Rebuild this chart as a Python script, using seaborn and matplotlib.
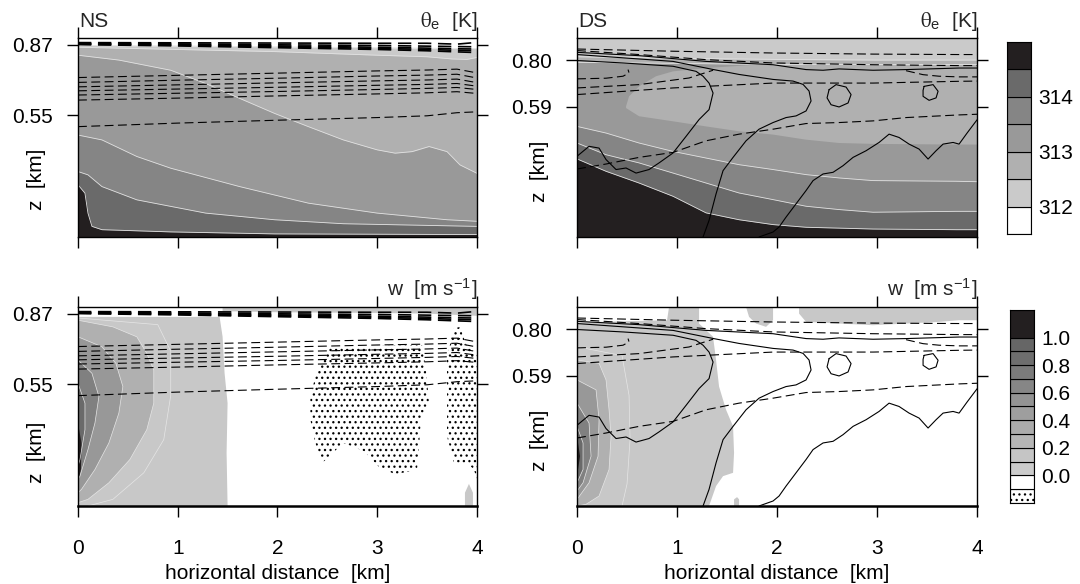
import numpy as np
import matplotlib
matplotlib.use("Agg")
import matplotlib.pyplot as plt
import seaborn as sns

# ---------------- axis settings ----------------
ZTOP = 0.9
XMAX = 4.0
XTICKS = [0, 1, 2, 3, 4]
NS_YTICKS = [0.55, 0.87]
DS_YTICKS = [0.59, 0.80]

# ---------------- colour scales ----------------
TH_COLORS = ['#ffffff', '#cacaca', '#b0b0b0', '#999999', '#858585', '#6a6a6a', '#231f20']
TH_CB_TICKPOS = [1, 3, 5]
TH_CB_LABELS = ['312', '313', '314']
W_CB_COLORS = ['#ffffff', '#ffffff', '#cbcbcb', '#c5c5c5', '#b5b5b5', '#ababab', '#9e9e9e',
               '#939393', '#868686', '#7b7b7b', '#6e6e6e', '#666666', '#231f20']
W_CB_HEIGHTS = [1, 1, 1, 1, 1, 1, 1, 1, 1, 1, 1, 1, 2]
W_CB_TICKPOS = [2, 4, 6, 8, 10, 12]
W_CB_LABELS = ['0.0', '0.2', '0.4', '0.6', '0.8', '1.0']
W_FILL = ['#c8c8c8', '#b0b0b0', '#989898', '#808080', '#6a6a6a', '#231f20']

# ---------------- NS theta_e band boundaries ----------------
ns_b312_x = [0, 1, 2, 3, 4]
ns_b312_z = [0.866, 0.864, 0.860, 0.856, 0.852]
ns_b3125_x = [0, 0.5, 1, 1.5, 2, 2.5, 3, 3.5, 3.75, 3.9, 4]
ns_b3125_z = [0.858, 0.853, 0.848, 0.843, 0.838, 0.830, 0.822, 0.815, 0.805, 0.803, 0.812]
ns_b313_x = [0, 0.41, 0.93, 1.28, 1.62, 1.97, 2.31, 2.66, 3.0, 3.18, 3.35, 3.52, 3.70, 3.83, 4.0]
ns_b313_z = [0.822, 0.80, 0.754, 0.694, 0.627, 0.559, 0.499, 0.439, 0.394, 0.379, 0.386, 0.409, 0.386, 0.326, 0.288]
ns_b3135_x = [0, 0.24, 0.59, 0.93, 1.62, 2.31, 3.0, 3.70, 4.0]
ns_b3135_z = [0.461, 0.439, 0.364, 0.311, 0.228, 0.153, 0.108, 0.078, 0.071]
ns_b314_x = [0, 0.10, 0.24, 0.59, 1.28, 1.97, 2.66, 4.0]
ns_b314_z = [0.296, 0.281, 0.228, 0.168, 0.108, 0.078, 0.060, 0.048]
ns_b3145_x = [0, 0.07, 0.10, 0.14, 0.24, 0.93, 1.97, 4.0]
ns_b3145_z = [0.236, 0.198, 0.108, 0.048, 0.033, 0.023, 0.014, 0.011]

# ---------------- DS theta_e band boundaries ----------------
ds_b312_x = [0, 1, 2, 3, 4]
ds_b312_z = [0.815, 0.808, 0.803, 0.800, 0.800]
ds_b3125_x = [0, 1, 2, 3, 4]
ds_b3125_z = [0.790, 0.785, 0.780, 0.780, 0.780]
ds_b3135_x = [0, 0.29, 0.62, 0.96, 1.29, 1.62, 1.96, 2.29, 2.62, 2.96, 3.79, 4.0]
ds_b3135_z = [0.50, 0.47, 0.425, 0.387, 0.357, 0.327, 0.305, 0.282, 0.267, 0.255, 0.252, 0.250]
ds_b314_x = [0, 0.29, 0.62, 0.96, 1.29, 1.62, 1.96, 2.29, 2.62, 2.96, 3.79, 4.0]
ds_b314_z = [0.425, 0.372, 0.335, 0.289, 0.244, 0.199, 0.169, 0.139, 0.124, 0.112, 0.116, 0.116]
ds_b3145_x = [0, 0.29, 0.62, 0.96, 1.29, 1.62, 1.96, 2.29, 2.96, 3.79, 4.0]
ds_b3145_z = [0.353, 0.297, 0.244, 0.184, 0.109, 0.078, 0.056, 0.044, 0.036, 0.033, 0.033]
ds_tongue_x = [0.49, 0.62, 0.96, 1.29, 1.62, 1.96, 2.29, 2.62, 2.96, 3.79, 4.0,
               4.0, 2.96, 1.96, 1.29, 0.96, 0.79, 0.62, 0.52, 0.49]
ds_tongue_z = [0.583, 0.546, 0.523, 0.500, 0.478, 0.463, 0.440, 0.425, 0.421, 0.418, 0.418,
               0.780, 0.779, 0.784, 0.764, 0.749, 0.727, 0.681, 0.636, 0.591]

# ---------------- NS dashed isolines ----------------
ns_line_x = [0, 1, 2, 3, 3.5, 3.8, 4]
ns_top_lines = [
    [0.879, 0.878, 0.877, 0.876, 0.876, 0.872, 0.880],
    [0.876, 0.873, 0.869, 0.866, 0.863, 0.861, 0.860],
    [0.874, 0.870, 0.864, 0.858, 0.854, 0.851, 0.850],
    [0.872, 0.867, 0.860, 0.853, 0.848, 0.844, 0.842],
    [0.870, 0.864, 0.856, 0.848, 0.842, 0.837, 0.834],
]
ns_mid_lines = [
    [0.721, 0.731, 0.741, 0.751, 0.755, 0.759, 0.742],
    [0.699, 0.709, 0.718, 0.728, 0.732, 0.736, 0.719],
    [0.679, 0.688, 0.697, 0.706, 0.710, 0.714, 0.698],
    [0.661, 0.669, 0.677, 0.686, 0.690, 0.694, 0.682],
    [0.642, 0.650, 0.658, 0.667, 0.672, 0.676, 0.667],
    [0.619, 0.628, 0.638, 0.647, 0.652, 0.657, 0.649],
    [0.499, 0.515, 0.528, 0.540, 0.548, 0.562, 0.566],
]

# ---------------- DS dashed and solid isolines ----------------
ds_dashed = [
    ([0, 0.96, 1.96, 2.96, 3.82, 4.0], [0.850, 0.840, 0.832, 0.827, 0.825, 0.825]),
    ([0, 0.62, 1.29, 1.96, 2.96, 3.82, 4.0], [0.843, 0.825, 0.802, 0.787, 0.779, 0.775, 0.775]),
    ([0, 0.29, 0.46, 0.52, 0.51], [0.715, 0.718, 0.727, 0.742, 0.757]),
    ([0, 0.62, 1.12, 1.36], [0.674, 0.689, 0.719, 0.754]),
    ([0, 0.96, 1.96, 2.96, 3.82, 4.0], [0.644, 0.674, 0.696, 0.696, 0.704, 0.705]),
    ([0, 0.29, 0.62, 0.96, 1.29, 1.62, 1.96, 2.29, 2.62, 2.96, 3.29, 3.82, 4.0],
     [0.3075, 0.33, 0.36, 0.3825, 0.435, 0.465, 0.4875, 0.513, 0.5175, 0.525, 0.54, 0.552, 0.555]),
    ([3.29, 3.46, 3.62, 3.82, 4.0], [0.752, 0.734, 0.727, 0.724, 0.724]),
]
ds_solid = [
    ([0, 0.46, 0.96, 1.19, 1.26, 1.32, 1.36, 1.32, 1.22, 1.09, 0.96, 0.82, 0.72, 0.59, 0.49,
      0.39, 0.29, 0.22, 0.12, 0],
     [0.798, 0.787, 0.772, 0.749, 0.727, 0.696, 0.651, 0.576, 0.531, 0.455, 0.380, 0.335,
      0.305, 0.289, 0.312, 0.305, 0.350, 0.402, 0.410, 0.365]),
    ([0, 0.96, 1.36, 1.62, 1.96, 2.16, 2.26, 2.32, 2.34, 2.29, 2.19, 2.09, 1.96, 1.82, 1.69,
      1.56, 1.46, 1.39, 1.32, 1.26],
     [0.825, 0.794, 0.7575, 0.735, 0.7125, 0.705, 0.69, 0.66, 0.615, 0.57, 0.5475, 0.54,
      0.5175, 0.4875, 0.435, 0.36, 0.30, 0.195, 0.075, 0.0]),
    ([1.82, 1.96, 2.02, 2.09, 2.19, 2.29, 2.36, 2.46, 2.56, 2.66, 2.76, 2.89, 3.02, 3.12,
      3.22, 3.32, 3.42, 3.51, 3.59, 3.66, 3.76, 3.82, 3.9, 4.0],
     [0.0, 0.0225, 0.045, 0.09, 0.15, 0.21, 0.255, 0.285, 0.2925, 0.3225, 0.36, 0.39,
      0.4275, 0.465, 0.45, 0.42, 0.3975, 0.3525, 0.39, 0.42, 0.4275, 0.42, 0.47, 0.53]),
    ([0, 0.62, 1.29, 1.96, 2.29, 2.46, 2.62, 2.96, 3.29, 3.82, 4.0],
     [0.835, 0.820, 0.794, 0.779, 0.757, 0.754, 0.760, 0.754, 0.757, 0.764, 0.764]),
    ([2.52, 2.59, 2.69, 2.74, 2.71, 2.62, 2.54, 2.50, 2.52],
     [0.666, 0.689, 0.678, 0.644, 0.606, 0.588, 0.598, 0.629, 0.666]),
    ([3.47, 3.56, 3.61, 3.59, 3.52, 3.46, 3.46, 3.47],
     [0.681, 0.689, 0.659, 0.629, 0.618, 0.636, 0.663, 0.681]),
]

# ---------------- NS vertical velocity regions ----------------
ns_w_regions = [
    ([0, 1.42, 1.45, 1.47, 1.50, 1.49, 1.50, 0], [0.855, 0.855, 0.765, 0.60, 0.465, 0.24, 0.0, 0.0]),
    ([0, 0.35, 0.59, 0.69, 0.76, 0.76, 0.69, 0.52, 0.31, 0.10, 0],
     [0.84, 0.81, 0.765, 0.69, 0.615, 0.465, 0.345, 0.21, 0.105, 0.03, 0.015]),
    ([0, 0.24, 0.38, 0.45, 0.41, 0.31, 0.17, 0.035, 0],
     [0.765, 0.72, 0.645, 0.54, 0.42, 0.285, 0.165, 0.075, 0.06]),
    ([0, 0.14, 0.21, 0.17, 0.10, 0.02, 0], [0.66, 0.60, 0.495, 0.375, 0.255, 0.135, 0.12]),
    ([0, 0.07, 0.07, 0.02, 0], [0.555, 0.465, 0.345, 0.21, 0.18]),
    ([0, 0.035, 0.03, 0], [0.375, 0.285, 0.165, 0.105]),
]
ns_w_extra = [
    ([1.45, 4.0, 4.0, 3.5, 3.0, 2.0, 1.6, 1.45], [0.9, 0.9, 0.86, 0.87, 0.873, 0.876, 0.88, 0.88]),
    ([3.88, 3.88, 3.92, 3.96, 3.96], [0.0, 0.06, 0.10, 0.06, 0.0]),
]
ns_w_01 = ([0, 0.8, 0.93, 0.93, 0.86, 0.66, 0.35, 0.1], [0.85, 0.82, 0.70, 0.50, 0.30, 0.15, 0.03, 0.0])
ns_neg = [
    ([2.52, 3.45, 3.49, 3.52, 3.44, 3.40, 3.18, 3.01, 2.87, 2.66, 2.52, 2.45, 2.38, 2.33, 2.33, 2.38],
     [0.72, 0.7275, 0.615, 0.465, 0.39, 0.165, 0.1425, 0.18, 0.2475, 0.285, 0.225, 0.195, 0.285,
      0.39, 0.495, 0.585]),
    ([3.70, 3.77, 3.83, 3.90, 4.0, 4.0, 3.97, 3.90, 3.77, 3.70, 3.70],
     [0.675, 0.8025, 0.81, 0.72, 0.69, 0.12, 0.165, 0.195, 0.195, 0.315, 0.495]),
]

# ---------------- DS vertical velocity regions ----------------
ds_w_regions = [
    ([0, 0.9, 0.92, 1.22, 1.22, 1.36, 1.39, 1.42, 1.49, 1.56, 1.57, 1.56, 1.46, 1.39, 1.32, 0],
     [0.83, 0.84, 0.9, 0.9, 0.825, 0.765, 0.66, 0.54, 0.435, 0.36, 0.24, 0.15, 0.135, 0.09, 0.0, 0.0]),
    ([0, 0.22, 0.29, 0.32, 0.34, 0.32, 0.22, 0.09, 0], [0.66, 0.645, 0.57, 0.435, 0.315, 0.165, 0.045, 0.0075, 0]),
    ([0, 0.19, 0.22, 0.21, 0.12, 0], [0.57, 0.525, 0.39, 0.225, 0.105, 0.03]),
    ([0, 0.12, 0.14, 0.06, 0], [0.465, 0.375, 0.225, 0.105, 0.0675]),
    ([0, 0.06, 0.06, 0], [0.36, 0.285, 0.165, 0.105]),
    ([0, 0.03, 0], [0.315, 0.225, 0.135]),
]
ds_w_extra = [
    ([1.69, 1.96, 1.96, 1.89, 1.79, 1.72], [0.9, 0.9, 0.84, 0.81, 0.825, 0.855]),
    ([2.22, 4.0, 4.0, 3.82, 3.62, 3.29, 2.96, 2.62, 2.29, 2.22],
     [0.9, 0.9, 0.84, 0.84, 0.8325, 0.825, 0.8175, 0.825, 0.8325, 0.87]),
    ([1.57, 1.57, 1.60, 1.62, 1.62], [0.0, 0.03, 0.04, 0.03, 0.0]),
]
ds_w_01 = ([0, 0.45, 0.52, 0.53, 0.50, 0.45], [0.72, 0.68, 0.50, 0.30, 0.10, 0.0])

# ---------------- style ----------------
sns.set_theme(style="ticks")
plt.rcParams['font.family'] = ['Liberation Sans', 'DejaVu Sans']
plt.rcParams['mathtext.fontset'] = 'stix'
plt.rcParams['hatch.linewidth'] = 0.9
FS = 15
DASH = (0, (8, 4))

fig = plt.figure(figsize=(10.8, 5.84), dpi=100)
ax_nt = fig.add_axes([0.0722, 0.5942, 0.3694, 0.3408])
ax_nb = fig.add_axes([0.0722, 0.1336, 0.3694, 0.3408])
ax_dt = fig.add_axes([0.5343, 0.5942, 0.3704, 0.3408])
ax_db = fig.add_axes([0.5343, 0.1336, 0.3704, 0.3408])


def draw_line(ax, x, z, ls='-', lw=0.8, color='black'):
    sns.lineplot(x=np.asarray(x, float), y=np.asarray(z, float), ax=ax, sort=False,
                 estimator=None, color=color, linewidth=lw, linestyle=ls)


def theta_bands(ax, bounds, tongue=None):
    ax.fill_between([0, XMAX], [0, 0], [ZTOP, ZTOP], color=TH_COLORS[6], lw=0)
    for i, (bx, bz) in enumerate(bounds):
        col = TH_COLORS[5 - i]
        if tongue is not None and i == 3:
            ax.fill(tongue[0], tongue[1], color=TH_COLORS[2], lw=0)
        ax.fill_between(bx, bz, ZTOP, color=col, lw=0)
        draw_line(ax, bx, bz, lw=0.6, color='#e2e2e2')


theta_bands(ax_nt, [(ns_b3145_x, ns_b3145_z), (ns_b314_x, ns_b314_z), (ns_b3135_x, ns_b3135_z),
                    (ns_b313_x, ns_b313_z), (ns_b3125_x, ns_b3125_z), (ns_b312_x, ns_b312_z)])
theta_bands(ax_dt, [(ds_b3145_x, ds_b3145_z), (ds_b314_x, ds_b314_z), (ds_b3135_x, ds_b3135_z),
                    (ds_b3125_x, ds_b3125_z), (ds_b312_x, ds_b312_z)],
            tongue=(ds_tongue_x, ds_tongue_z))


def w_bands(ax, regions, extra, line01):
    for (ex, ez) in extra:
        ax.fill(ex, ez, color=W_FILL[0], lw=0)
    for i, (rx, rz) in enumerate(regions):
        ax.fill(rx, rz, color=W_FILL[i], lw=0)
        if 0 < i < 5:
            draw_line(ax, rx, rz, lw=0.5, color='#e6e6e6')
    draw_line(ax, line01[0], line01[1], lw=0.5, color='#e6e6e6')


w_bands(ax_nb, ns_w_regions, ns_w_extra, ns_w_01)
w_bands(ax_db, ds_w_regions, ds_w_extra, ds_w_01)
for (px, pz) in ns_neg:
    ax_nb.fill(px, pz, facecolor='none', edgecolor='black', hatch='...', lw=0)

# isolines
for ax in (ax_nt, ax_nb):
    for zz in ns_top_lines:
        draw_line(ax, ns_line_x, zz, ls=DASH, lw=1.2)
    for zz in ns_mid_lines:
        draw_line(ax, ns_line_x, zz, ls=DASH, lw=0.8)
for ax in (ax_dt, ax_db):
    for (lx, lz) in ds_dashed:
        draw_line(ax, lx, lz, ls=DASH, lw=0.8)
    for (lx, lz) in ds_solid:
        draw_line(ax, lx, lz, ls='-', lw=0.8)

# axes cosmetics
for ax, yt, bottom in ((ax_nt, NS_YTICKS, False), (ax_nb, NS_YTICKS, True),
                       (ax_dt, DS_YTICKS, False), (ax_db, DS_YTICKS, True)):
    ax.set_xlim(0, XMAX)
    ax.set_ylim(0, ZTOP)
    ax.set_xticks(XTICKS)
    ax.set_yticks(yt)
    ax.set_yticklabels([f'{v:.2f}' for v in yt])
    ax.tick_params(direction='out', length=8, width=1, top=True, right=True,
                   labelsize=FS, colors='black', pad=10)
    ax.tick_params(axis='x', pad=16, labelbottom=bottom)
    for s in ax.spines.values():
        s.set_linewidth(1.0)
        s.set_color('black')
    ax.grid(False)
    ax.set_ylabel('z  [km]', fontsize=FS, color='black')
    if bottom:
        ax.spines['bottom'].set_linewidth(1.8)
        ax.set_xlabel('horizontal distance  [km]', fontsize=FS, color='black', labelpad=4)
        ax.set_xticklabels([str(v) for v in XTICKS])
    else:
        ax.set_xlabel('')

ax_nt.yaxis.set_label_coords(-0.08, 0.29)
ax_nb.yaxis.set_label_coords(-0.08, 0.27)
ax_dt.yaxis.set_label_coords(-0.07, 0.33)
ax_db.yaxis.set_label_coords(-0.07, 0.33)

for ax, txt in ((ax_nt, 'NS'), (ax_dt, 'DS')):
    ax.annotate(txt, xy=(0, 1), xycoords='axes fraction', xytext=(1, 8),
                textcoords='offset points', ha='left', va='baseline', fontsize=FS)
for ax in (ax_nt, ax_dt):
    ax.annotate(r'$\mathrm{\theta}_{\mathregular{e}}$  [K]', xy=(1, 1), xycoords='axes fraction',
                xytext=(0, 8), textcoords='offset points', ha='right', va='baseline', fontsize=FS)
for ax in (ax_nb, ax_db):
    ax.annotate(r'w  [m s$^{\mathregular{-1}}$]', xy=(1, 1), xycoords='axes fraction', xytext=(0, 8),
                textcoords='offset points', ha='right', va='baseline', fontsize=FS)

# colour bars
cb1 = fig.add_axes([0.9324, 0.5993, 0.0222, 0.3293])
bottom_acc = 0
for c in TH_COLORS:
    cb1.bar(0, 1, bottom=bottom_acc, width=1, color=c, edgecolor='black', linewidth=0.8)
    bottom_acc += 1
cb1.set_xlim(-0.5, 0.5)
cb1.set_ylim(0, bottom_acc)
cb1.set_xticks([])
cb1.set_yticks(TH_CB_TICKPOS)
cb1.set_yticklabels(TH_CB_LABELS)

cb2 = fig.add_axes([0.9352, 0.1387, 0.0222, 0.3305])
bottom_acc = 0
for i, (c, h) in enumerate(zip(W_CB_COLORS, W_CB_HEIGHTS)):
    cb2.bar(0, h, bottom=bottom_acc, width=1, color=c, edgecolor='black', linewidth=0.8,
            hatch='...' if i == 0 else None)
    bottom_acc += h
cb2.set_xlim(-0.5, 0.5)
cb2.set_ylim(0, bottom_acc)
cb2.set_xticks([])
cb2.set_yticks(W_CB_TICKPOS)
cb2.set_yticklabels(W_CB_LABELS)

for cb in (cb1, cb2):
    cb.yaxis.tick_right()
    cb.tick_params(axis='y', length=0, pad=5, labelsize=FS, colors='black')
    for s in cb.spines.values():
        s.set_linewidth(0.8)
        s.set_color('black')
    cb.set_ylabel('')

fig.savefig('out.png', dpi=100)
